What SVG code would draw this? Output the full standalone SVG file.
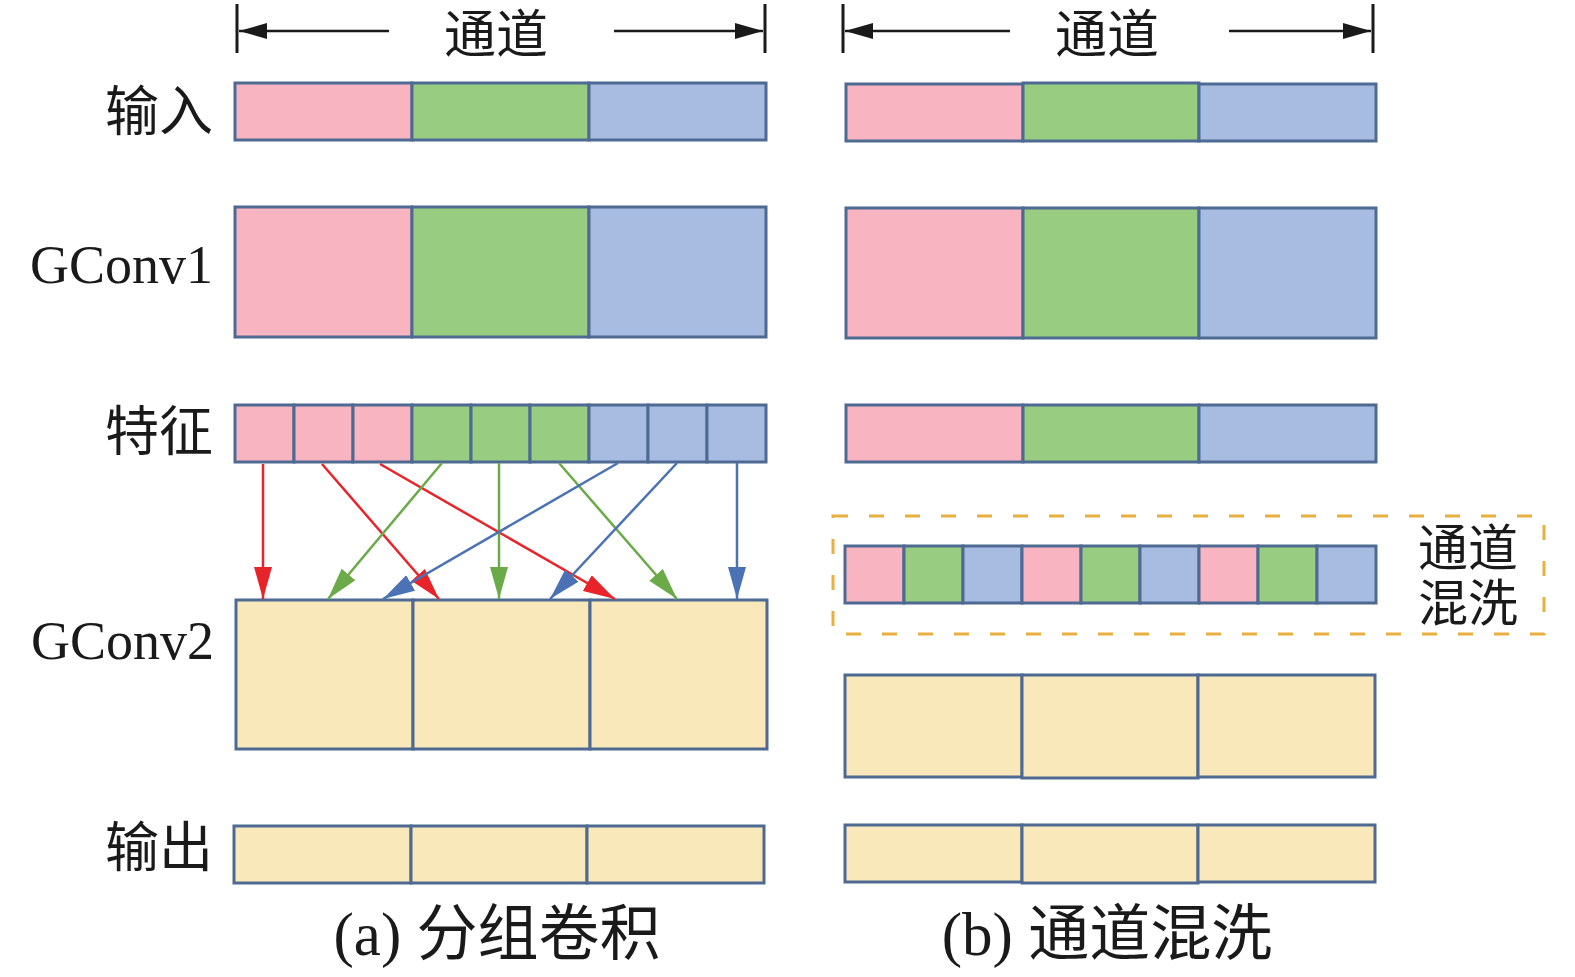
<svg xmlns="http://www.w3.org/2000/svg" width="1575" height="977" viewBox="0 0 1575 977">
<style>
.pk{fill:#F8B4C0;stroke:#4E6A92;stroke-width:3}
.gr{fill:#98CC80;stroke:#4E6A92;stroke-width:3}
.bl{fill:#A8BCE2;stroke:#4E6A92;stroke-width:3}
.ye{fill:#F9E8BA;stroke:#4E6A92;stroke-width:3}
.cjk{font-family:"Noto Sans CJK SC","Noto Sans CJK JP",sans-serif;fill:#1a1a1a}
.lat{font-family:"Liberation Serif","Noto Sans CJK SC",serif;fill:#1a1a1a}
.dim{stroke:#1a1a1a;stroke-width:2.5;fill:none}
.bar{stroke:#1a1a1a;stroke-width:3}
.ar{fill:none;stroke-width:2.5}
</style>
<defs>
<marker id="mk" viewBox="0 0 28 16" refX="28" refY="8" markerWidth="28" markerHeight="16" markerUnits="userSpaceOnUse" orient="auto"><path d="M0,0 L28,8 L0,16 z" fill="#1a1a1a"/></marker>
<marker id="mr" viewBox="0 0 32 18" refX="32" refY="9" markerWidth="32" markerHeight="18" markerUnits="userSpaceOnUse" orient="auto"><path d="M0,0 L32,9 L0,18 z" fill="#E8242A"/></marker>
<marker id="mg" viewBox="0 0 32 18" refX="32" refY="9" markerWidth="32" markerHeight="18" markerUnits="userSpaceOnUse" orient="auto"><path d="M0,0 L32,9 L0,18 z" fill="#6AAA48"/></marker>
<marker id="mb" viewBox="0 0 32 18" refX="32" refY="9" markerWidth="32" markerHeight="18" markerUnits="userSpaceOnUse" orient="auto"><path d="M0,0 L32,9 L0,18 z" fill="#4A72B4"/></marker>
</defs>
<rect width="1575" height="977" fill="#ffffff"/>

<!-- row labels -->
<g id="labels">
<text class="cjk" x="213" y="131" font-size="54" text-anchor="end">输入</text>
<text class="lat" x="213" y="283" font-size="54" text-anchor="end">GConv1</text>
<text class="cjk" x="213" y="451" font-size="54" text-anchor="end">特征</text>
<text class="lat" x="214" y="659" font-size="54" text-anchor="end">GConv2</text>
<text class="cjk" x="213" y="867" font-size="54" text-anchor="end">输出</text>
</g>

<!-- dimension arrows (a) -->
<g id="dim-a">
<line class="bar" x1="237" y1="4" x2="237" y2="53"/>
<line class="bar" x1="765" y1="4" x2="765" y2="53"/>
<line class="dim" x1="389" y1="31" x2="239" y2="31" marker-end="url(#mk)"/>
<line class="dim" x1="614" y1="31" x2="763" y2="31" marker-end="url(#mk)"/>
<text class="cjk" x="496" y="53" font-size="52" text-anchor="middle">通道</text>
</g>
<!-- dimension arrows (b) -->
<g id="dim-b">
<line class="bar" x1="843" y1="4" x2="843" y2="53"/>
<line class="bar" x1="1373" y1="4" x2="1373" y2="53"/>
<line class="dim" x1="1010" y1="31" x2="845" y2="31" marker-end="url(#mk)"/>
<line class="dim" x1="1229" y1="31" x2="1371" y2="31" marker-end="url(#mk)"/>
<text class="cjk" x="1107" y="53" font-size="52" text-anchor="middle">通道</text>
</g>

<!-- (a) column -->
<g id="a-input">
<rect class="pk" x="235" y="83" width="177" height="57"/>
<rect class="gr" x="412" y="83" width="177" height="57"/>
<rect class="bl" x="589" y="83" width="177" height="57"/>
</g>
<g id="a-gconv1">
<rect class="pk" x="235" y="207" width="177" height="130"/>
<rect class="gr" x="412" y="207" width="177" height="130"/>
<rect class="bl" x="589" y="207" width="177" height="130"/>
</g>
<g id="a-feature">
<rect class="pk" x="235" y="405" width="59" height="57"/>
<rect class="pk" x="294" y="405" width="59" height="57"/>
<rect class="pk" x="353" y="405" width="59" height="57"/>
<rect class="gr" x="412" y="405" width="59" height="57"/>
<rect class="gr" x="471" y="405" width="59" height="57"/>
<rect class="gr" x="530" y="405" width="59" height="57"/>
<rect class="bl" x="589" y="405" width="59" height="57"/>
<rect class="bl" x="648" y="405" width="59" height="57"/>
<rect class="bl" x="707" y="405" width="59" height="57"/>
</g>
<g id="a-gconv2">
<rect class="ye" x="236" y="600" width="177" height="149"/>
<rect class="ye" x="413" y="600" width="177" height="149"/>
<rect class="ye" x="590" y="600" width="177" height="149"/>
</g>
<g id="a-output">
<rect class="ye" x="234" y="826" width="177" height="57"/>
<rect class="ye" x="411" y="826" width="176" height="57"/>
<rect class="ye" x="587" y="826" width="177" height="57"/>
</g>

<!-- connectors -->
<g id="connectors">
<line class="ar" stroke="#E8242A" x1="263" y1="464" x2="263" y2="599" marker-end="url(#mr)"/>
<line class="ar" stroke="#E8242A" x1="322" y1="464" x2="439" y2="599" marker-end="url(#mr)"/>
<line class="ar" stroke="#E8242A" x1="380" y1="464" x2="615" y2="599" marker-end="url(#mr)"/>
<line class="ar" stroke="#6AAA48" x1="442" y1="463" x2="328" y2="599" marker-end="url(#mg)"/>
<line class="ar" stroke="#6AAA48" x1="499" y1="463" x2="499" y2="599" marker-end="url(#mg)"/>
<line class="ar" stroke="#6AAA48" x1="559" y1="463" x2="677" y2="599" marker-end="url(#mg)"/>
<line class="ar" stroke="#4A72B4" x1="618" y1="463" x2="383" y2="599" marker-end="url(#mb)"/>
<line class="ar" stroke="#4A72B4" x1="677" y1="463" x2="550" y2="599" marker-end="url(#mb)"/>
<line class="ar" stroke="#4A72B4" x1="737" y1="463" x2="737" y2="599" marker-end="url(#mb)"/>
</g>

<!-- (b) column -->
<g id="b-input">
<rect class="pk" x="846" y="84" width="177" height="57"/>
<rect class="gr" x="1023" y="83" width="176" height="58"/>
<rect class="bl" x="1199" y="84" width="177" height="57"/>
</g>
<g id="b-gconv1">
<rect class="pk" x="846" y="208" width="177" height="130"/>
<rect class="gr" x="1023" y="208" width="176" height="130"/>
<rect class="bl" x="1199" y="208" width="177" height="130"/>
</g>
<g id="b-feature">
<rect class="pk" x="846" y="405" width="177" height="57"/>
<rect class="gr" x="1023" y="405" width="176" height="57"/>
<rect class="bl" x="1199" y="405" width="177" height="57"/>
</g>
<g id="b-shuffle">
<rect x="833" y="516" width="711" height="118" fill="none" stroke="#E8B040" stroke-width="3" stroke-dasharray="15,21"/>
<rect class="pk" x="845" y="546" width="59" height="57"/>
<rect class="gr" x="904" y="546" width="59" height="57"/>
<rect class="bl" x="963" y="546" width="59" height="57"/>
<rect class="pk" x="1022" y="546" width="59" height="57"/>
<rect class="gr" x="1081" y="546" width="59" height="57"/>
<rect class="bl" x="1140" y="546" width="59" height="57"/>
<rect class="pk" x="1199" y="546" width="59" height="57"/>
<rect class="gr" x="1258" y="546" width="59" height="57"/>
<rect class="bl" x="1317" y="546" width="59" height="57"/>
<text class="cjk" x="1468" y="566" font-size="50" text-anchor="middle">通道</text>
<text class="cjk" x="1468" y="621" font-size="50" text-anchor="middle">混洗</text>
</g>
<g id="b-gconv2">
<rect class="ye" x="845" y="675" width="177" height="102"/>
<rect class="ye" x="1022" y="675" width="176" height="103"/>
<rect class="ye" x="1198" y="675" width="177" height="102"/>
</g>
<g id="b-output">
<rect class="ye" x="845" y="825" width="177" height="57"/>
<rect class="ye" x="1022" y="825" width="176" height="58"/>
<rect class="ye" x="1198" y="825" width="177" height="57"/>
</g>

<!-- captions -->
<g id="captions">
<text x="497" y="955" font-size="61" text-anchor="middle"><tspan class="lat">(a) </tspan><tspan class="cjk">分组卷积</tspan></text>
<text x="1107" y="955" font-size="61" text-anchor="middle"><tspan class="lat">(b) </tspan><tspan class="cjk">通道混洗</tspan></text>
</g>
</svg>
